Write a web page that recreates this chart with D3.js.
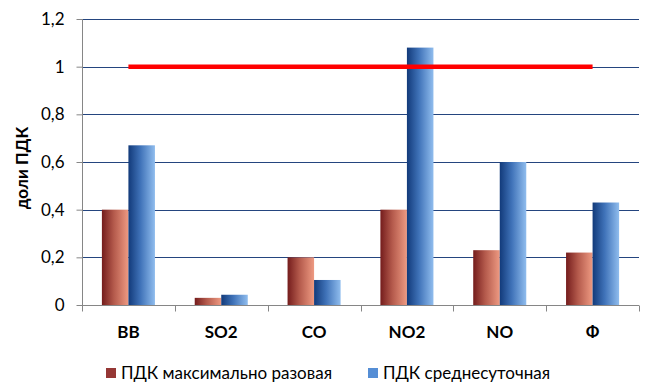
<!DOCTYPE html>
<html>
<head>
<meta charset="utf-8">
<script src="https://cdn.jsdelivr.net/npm/d3@7"></script>
<style>
  body { margin: 0; background: #fff; }
  svg text { font-family: Lato, "Open Sans", sans-serif; fill: #000; }
</style>
</head>
<body>
<svg id="chart"></svg>
<script>
var categories = ["ВВ", "SO2", "CO", "NO2", "NO", "Ф"];
var seriesNames = ["ПДК максимально разовая", "ПДК среднесуточная"];
var maxOnce = [0.4, 0.03, 0.2, 0.4, 0.23, 0.22];
var dailyAvg = [0.67, 0.043, 0.105, 1.08, 0.6, 0.43];
var yTicks = [0, 0.2, 0.4, 0.6, 0.8, 1, 1.2];
var limitLine = 1;

var width = 653, height = 388;
var margin = {top: 19, right: 14, bottom: 83, left: 82};

var svg = d3.select("#chart")
  .attr("width", width)
  .attr("height", height);

var defs = svg.append("defs");
function addGrad(id, stops) {
  var g = defs.append("linearGradient")
    .attr("id", id)
    .attr("x1", "0%").attr("x2", "100%")
    .attr("y1", "0%").attr("y2", "0%");
  stops.forEach(function (s) {
    g.append("stop").attr("offset", s[0]).attr("stop-color", s[1]);
  });
}
addGrad("gradRed", [["0%", "#741c1c"], ["45%", "#b45a4c"], ["100%", "#ee9a82"]]);
addGrad("gradBlue", [["0%", "#123a7a"], ["45%", "#3f72b8"], ["100%", "#90bdee"]]);

var x = d3.scaleBand()
  .domain(categories)
  .range([margin.left, width - margin.right]);

var inner = d3.scaleBand()
  .domain([0, 1])
  .range([0, x.bandwidth() / 1.75]);

var y = d3.scaleLinear()
  .domain([0, 1.2])
  .range([height - margin.bottom, margin.top]);

// gridlines
svg.append("g")
  .selectAll("line")
  .data(yTicks.filter(function (d) { return d > 0; }))
  .enter().append("line")
  .attr("x1", margin.left)
  .attr("x2", width - margin.right)
  .attr("y1", function (d) { return Math.round(y(d)) + 0.5; })
  .attr("y2", function (d) { return Math.round(y(d)) + 0.5; })
  .attr("stroke", "#24457f")
  .attr("stroke-width", 1);

// bars
var groups = svg.append("g")
  .selectAll("g")
  .data(categories)
  .enter().append("g")
  .attr("transform", function (d) {
    return "translate(" + (x(d) + (x.bandwidth() - x.bandwidth() / 1.75) / 2) + ",0)";
  });

groups.append("rect")
  .attr("x", inner(0))
  .attr("width", inner.bandwidth())
  .attr("y", function (d, i) { return y(maxOnce[i]); })
  .attr("height", function (d, i) { return y(0) - y(maxOnce[i]); })
  .attr("fill", "url(#gradRed)");

groups.append("rect")
  .attr("x", inner(1))
  .attr("width", inner.bandwidth())
  .attr("y", function (d, i) { return y(dailyAvg[i]); })
  .attr("height", function (d, i) { return y(0) - y(dailyAvg[i]); })
  .attr("fill", "url(#gradBlue)");

// limit line
svg.append("line")
  .attr("x1", x(categories[0]) + x.bandwidth() / 2)
  .attr("x2", x(categories[categories.length - 1]) + x.bandwidth() / 2)
  .attr("y1", y(limitLine))
  .attr("y2", y(limitLine))
  .attr("stroke", "#ff0000")
  .attr("stroke-width", 4.5);

// y axis
var yAxis = svg.append("g")
  .attr("transform", "translate(" + (margin.left + 0.5) + ",0)")
  .call(d3.axisLeft(y)
    .tickValues(yTicks)
    .tickSize(6)
    .tickPadding(12)
    .tickFormat(function (d) { return String(d).replace(".", ","); }));
yAxis.select(".domain").attr("stroke", "#868686").attr("d",
  "M0," + y(1.2) + "V" + y(0));
yAxis.selectAll(".tick line").attr("stroke", "#868686");
yAxis.selectAll(".tick text")
  .attr("font-size", 17)
  .attr("fill", "#000")
  .style("font-family", "Lato, 'Open Sans', sans-serif");

// x axis
var xAxis = svg.append("g")
  .attr("transform", "translate(0," + (Math.round(y(0)) + 0.5) + ")")
  .call(d3.axisBottom(x).tickSize(0).tickPadding(20));
xAxis.select(".domain").attr("stroke", "#868686").attr("d",
  "M" + margin.left + ",0H" + (width - margin.right));
xAxis.selectAll(".tick text")
  .attr("font-size", 17)
  .attr("font-weight", "bold")
  .attr("fill", "#000")
  .style("font-family", "Lato, 'Open Sans', sans-serif");

var bounds = categories.map(function (c) { return x(c); }).concat([width - margin.right]);
xAxis.selectAll(".sep")
  .data(bounds)
  .enter().append("line")
  .attr("class", "sep")
  .attr("x1", function (d) { return Math.round(d) + 0.5; })
  .attr("x2", function (d) { return Math.round(d) + 0.5; })
  .attr("y1", 0)
  .attr("y2", 6)
  .attr("stroke", "#868686");

// y label
svg.append("text")
  .attr("transform", "translate(28,168) rotate(-90)")
  .attr("text-anchor", "middle")
  .attr("font-size", 17)
  .attr("font-weight", "bold")
  .text("доли ПДК");

// legend
var legendColors = ["#953735", "#558ed5"];
var legendX = [106, 368];
var legend = svg.append("g")
  .selectAll("g")
  .data(seriesNames)
  .enter().append("g")
  .attr("transform", function (d, i) { return "translate(" + legendX[i] + ",368)"; });
legend.append("rect")
  .attr("width", 10)
  .attr("height", 10)
  .attr("fill", function (d, i) { return legendColors[i]; });
legend.append("text")
  .attr("x", 15)
  .attr("y", 11)
  .attr("font-size", 17)
  .text(function (d) { return d; });
</script>
</body>
</html>
